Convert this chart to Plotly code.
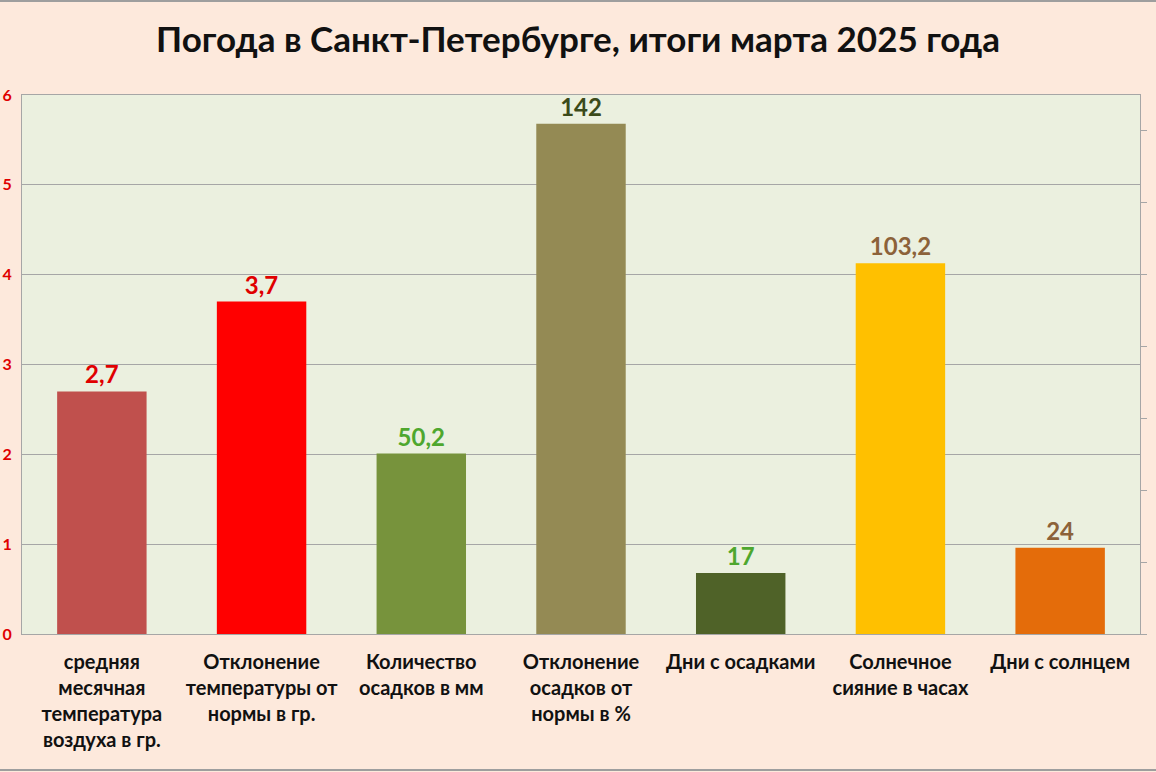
import plotly.graph_objects as go

# categories and values
categories = [
    "средняя<br>месячная<br>температура<br>воздуха в гр.",
    "Отклонение<br>температуры от<br>нормы в гр.",
    "Количество<br>осадков в мм",
    "Отклонение<br>осадков от<br>нормы в %",
    "Дни с осадками",
    "Солнечное<br>сияние в часах",
    "Дни с солнцем",
]
temp_values = [2.7, 3.7]                   # left axis (degrees)
other_values = [50.2, 142, 17, 103.2, 24]  # right axis

temp_colors = ["#C0504D", "#FF0000"]
other_colors = ["#77933C", "#948A54", "#4F6228", "#FFC000", "#E46C0A"]
temp_label_colors = ["#E00000", "#E00000"]
other_label_colors = ["#4EA72E", "#3B4A1A", "#4EA72E", "#8C6239", "#8C6239"]


def fmt(v):
    return f"{v:g}".replace(".", ",")


FONT = "Lato, 'Open Sans', sans-serif"

fig = go.Figure()
fig.add_trace(go.Bar(
    x=categories[:2], y=temp_values, yaxis="y",
    width=0.56,
    marker=dict(color=temp_colors, line=dict(width=0)),
    text=[fmt(v) for v in temp_values],
    textposition="outside", cliponaxis=False,
    textfont=dict(family=FONT, size=24, color=temp_label_colors, weight="bold"),
    showlegend=False,
))
fig.add_trace(go.Bar(
    x=categories[2:], y=other_values, yaxis="y2",
    width=0.56,
    marker=dict(color=other_colors, line=dict(width=0)),
    text=[fmt(v) for v in other_values],
    textposition="outside", cliponaxis=False,
    textfont=dict(family=FONT, size=24, color=other_label_colors, weight="bold"),
    showlegend=False,
))

fig.update_layout(
    width=1156, height=772,
    margin=dict(l=22, r=16, t=95, b=138, autoexpand=False),
    paper_bgcolor="#FDE9DC",
    plot_bgcolor="#EBF0DF",
    barmode="overlay",
    title=dict(text="<b>Погода в Санкт-Петербурге, итоги марта 2025 года</b>",
               x=0.5, xanchor="center", y=0.948, yanchor="middle",
               font=dict(family=FONT, size=35, color="#111111")),
    xaxis=dict(categoryorder="array", categoryarray=categories,
               showline=True, linecolor="#A6A6A6", mirror=True,
               ticks="", automargin=False, ticklabelstandoff=10,
               tickfont=dict(family=FONT, size=20, color="#111111", weight="bold")),
    yaxis=dict(range=[0, 6], dtick=1, showgrid=True, gridcolor="#A6A6A6",
               showline=True, linecolor="#A6A6A6", zeroline=False,
               ticks="", automargin=False, ticklabelstandoff=6,
               tickfont=dict(family=FONT, size=16, color="#E00000", weight="bold")),
    yaxis2=dict(range=[0, 150], dtick=20, overlaying="y", side="right",
                showgrid=False, zeroline=False, showline=True, linecolor="#A6A6A6",
                ticks="outside", ticklen=6, tickcolor="#A6A6A6",
                showticklabels=False, automargin=False),
    shapes=[
        dict(type="line", xref="paper", yref="paper", x0=-0.05, x1=1.05,
             y0=1.1744, y1=1.1744, line=dict(color="#9E9E9E", width=2)),
        dict(type="line", xref="paper", yref="paper", x0=-0.05, x1=1.05,
             y0=-0.2523, y1=-0.2523, line=dict(color="#9E9E9E", width=2)),
    ],
)

fig.write_html("out.html", config={"displayModeBar": False},
               post_script="document.body.style.margin='0';")
